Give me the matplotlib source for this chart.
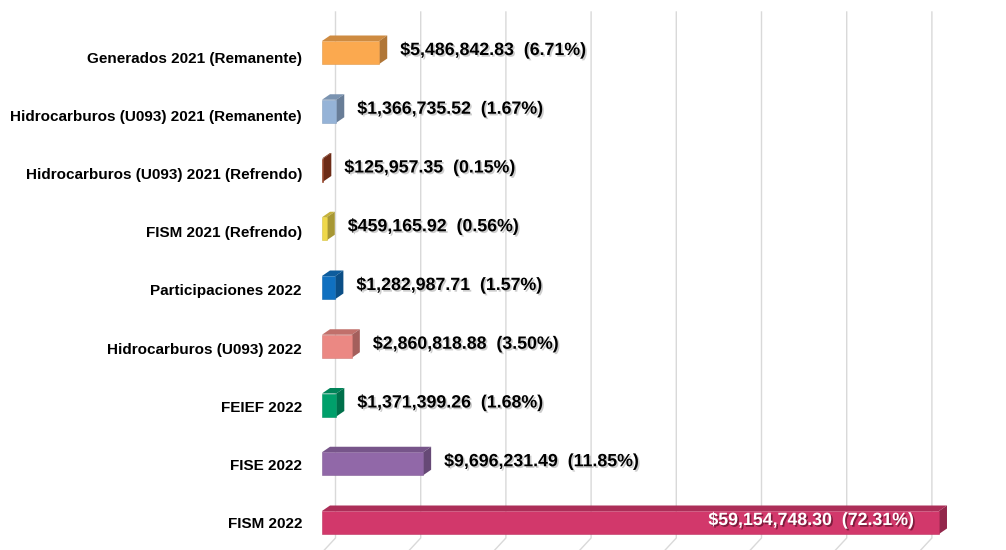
import numpy as np
import matplotlib
matplotlib.use("Agg")
import matplotlib.pyplot as plt
import matplotlib.patheffects as pe
from matplotlib.patches import Polygon
from matplotlib.colors import to_rgb

# Data
categories = [
    "Generados 2021 (Remanente)",
    "Hidrocarburos (U093) 2021 (Remanente)",
    "Hidrocarburos (U093) 2021 (Refrendo)",
    "FISM 2021 (Refrendo)",
    "Participaciones 2022",
    "Hidrocarburos (U093) 2022",
    "FEIEF 2022",
    "FISE 2022",
    "FISM 2022",
]
amounts = [5486842.83, 1366735.52, 125957.35, 459165.92, 1282987.71,
           2860818.88, 1371399.26, 9696231.49, 59154748.30]
percents = [6.71, 1.67, 0.15, 0.56, 1.57, 3.50, 1.68, 11.85, 72.31]
colors = ["#FBA94F", "#95B3D7", "#9A3E1F", "#EFD84A", "#1070C0",
          "#EB8883", "#00A06B", "#9168A8", "#D2386B"]

plt.rcParams['font.family'] = ['Liberation Sans', 'DejaVu Sans']

W, H = 1006, 550
fig = plt.figure(figsize=(W / 100, H / 100), dpi=100)

# pixel geometry
x0_px = 322            # front face zero
px_per_m = 10.43       # pixels per million
y0_px = 52.5           # first bar centre
step_px = 58.75        # category spacing
ax = fig.add_axes([x0_px / W, 0, 1 - x0_px / W, 1])
ax.set_xlim(0, (W - x0_px) / px_per_m)
ax.set_ylim((H - y0_px) / step_px, -y0_px / step_px)
ax.axis("off")

vals = np.array(amounts) / 1e6
ypos = np.arange(len(categories))
bar_h = 23 / step_px
dx = 8 / px_per_m
dy = 5.5 / step_px

# back wall gridlines with floor slant
for k in range(8):
    gx = (335.5 - x0_px + 85.2 * k) / px_per_m
    y_top = (12 - y0_px) / step_px
    y_bot = (538 - y0_px) / step_px
    y_fl = (552 - y0_px) / step_px
    ax.plot([gx, gx, gx - 13 / px_per_m], [y_top, y_bot, y_fl],
            color="#D9D9D9", lw=1, zorder=0, clip_on=False)

# front faces
ax.barh(ypos, vals, height=bar_h, color=colors, zorder=3,
        edgecolor=[tuple(c * 0.9 for c in to_rgb(col)) for col in colors], linewidth=0.4)

# top and side faces
for y, v, col in zip(ypos, vals, colors):
    rgb = np.array(to_rgb(col))
    yt = y - bar_h / 2
    yb = y + bar_h / 2
    top = Polygon([(0, yt), (v, yt), (v + dx, yt - dy), (dx, yt - dy)],
                  closed=True, facecolor=rgb * 0.82, edgecolor="none", zorder=2)
    side = Polygon([(v, yt), (v + dx, yt - dy), (v + dx, yb - dy), (v, yb)],
                   closed=True, facecolor=rgb * 0.7, edgecolor="none", zorder=2)
    ax.add_patch(top)
    ax.add_patch(side)

# category labels
for i, name in enumerate(categories):
    ax.text(-20 / px_per_m, i + (6 - 0.5 * i) / step_px, name, ha="right", va="center",
            fontsize=11, fontweight="bold", color="black", clip_on=False)

# value labels
for i, (v, p) in enumerate(zip(vals, percents)):
    txt = f"${amounts[i]:,.2f}  ({p:.2f}%)"
    if i == len(vals) - 1:
        ax.text(v - 25 / px_per_m, i - 2 / step_px, txt, ha="right", va="center",
                fontsize=12.8, fontweight="bold", color="white", zorder=5,
                path_effects=[pe.withSimplePatchShadow(offset=(1.2, -1.2),
                                                       shadow_rgbFace="#5a1028", alpha=0.7)])
    else:
        ax.text(v + 21 / px_per_m, i - 2 / step_px, txt, ha="left", va="center",
                fontsize=12.8, fontweight="bold", color="black", zorder=5,
                path_effects=[pe.withSimplePatchShadow(offset=(1.2, -1.2),
                                                       shadow_rgbFace="#909090", alpha=0.45)])

plt.savefig("out.png", dpi=100)
